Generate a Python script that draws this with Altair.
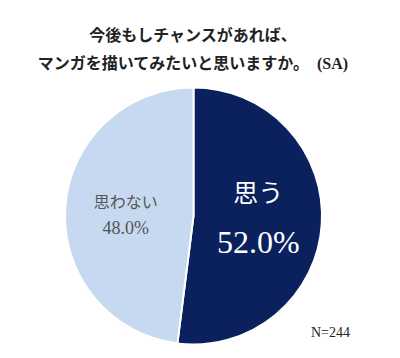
import altair as alt
import pandas as pd

categories = ["思う", "思わない"]
values = [52.0, 48.0]
colors = ["#0b215e", "#c6d9f0"]
title_lines = ["今後もしチャンスがあれば、", "マンガを描いてみたいと思いますか。　(SA)"]
note = "N=244"

df = pd.DataFrame({"cat": categories, "val": values, "color": colors,
                   "order": [0, 1]})
df["pct"] = [f"{v:.1f}%" for v in values]

CJK = "Noto Sans CJK JP"
SERIF = "Liberation Serif"
CX, CY, R = 193.5, 146, 128.5

base = alt.Chart(df)

pie = base.mark_arc(stroke="white", strokeWidth=2, outerRadius=R).encode(
    theta=alt.Theta("val:Q", stack=True),
    order=alt.Order("order:Q"),
    color=alt.Color("color:N", scale=None),
    x=alt.value(CX), y=alt.value(CY),
)

def label(cat, field, radius, dy, size, color, font):
    return base.transform_window(
        cum="sum(val)", sort=[alt.SortField("order")]
    ).transform_calculate(
        mid="datum.cum - datum.val / 2"
    ).transform_filter(
        alt.datum.cat == cat
    ).mark_text(font=font, fontSize=size, color=color, dy=dy,
                align="center", baseline="middle").encode(
        theta=alt.Theta("mid:Q", stack=None, scale=alt.Scale(domain=[0, 100])),
        radius=alt.value(radius),
        text=alt.Text(f"{field}:N"),
        x=alt.value(CX), y=alt.value(CY),
    )

l1 = label("思う", "cat", 65, -26, 25, "white", CJK)
l2 = label("思う", "pct", 65, 23, 32, "white", f"{SERIF}, serif")
l3 = label("思わない", "cat", 68, -9, 16, "#555555", CJK)
l4 = label("思わない", "pct", 68, 17, 18, "#555555", f"{SERIF}, serif")

nlabel = alt.Chart(pd.DataFrame({"t": [note]})).mark_text(
    font=SERIF, fontSize=14, color="#222222", align="left", baseline="middle"
).encode(text="t:N", x=alt.value(311), y=alt.value(263))

chart = alt.layer(pie, l1, l2, l3, l4, nlabel).properties(
    width=400, height=288,
    padding={"top": 70, "left": 0, "right": 0, "bottom": 0},
    autosize=alt.AutoSizeParams(type="none"),
    title=alt.TitleParams(
        text=title_lines, font=f"{SERIF}, {CJK}", fontSize=16, fontWeight="bold",
        color="#222222", anchor="middle", dx=-7, offset=-2, lineHeight=28,
    ),
).configure_view(stroke=None)

chart.save("out.html", embed_options={"renderer": "svg", "actions": False})
